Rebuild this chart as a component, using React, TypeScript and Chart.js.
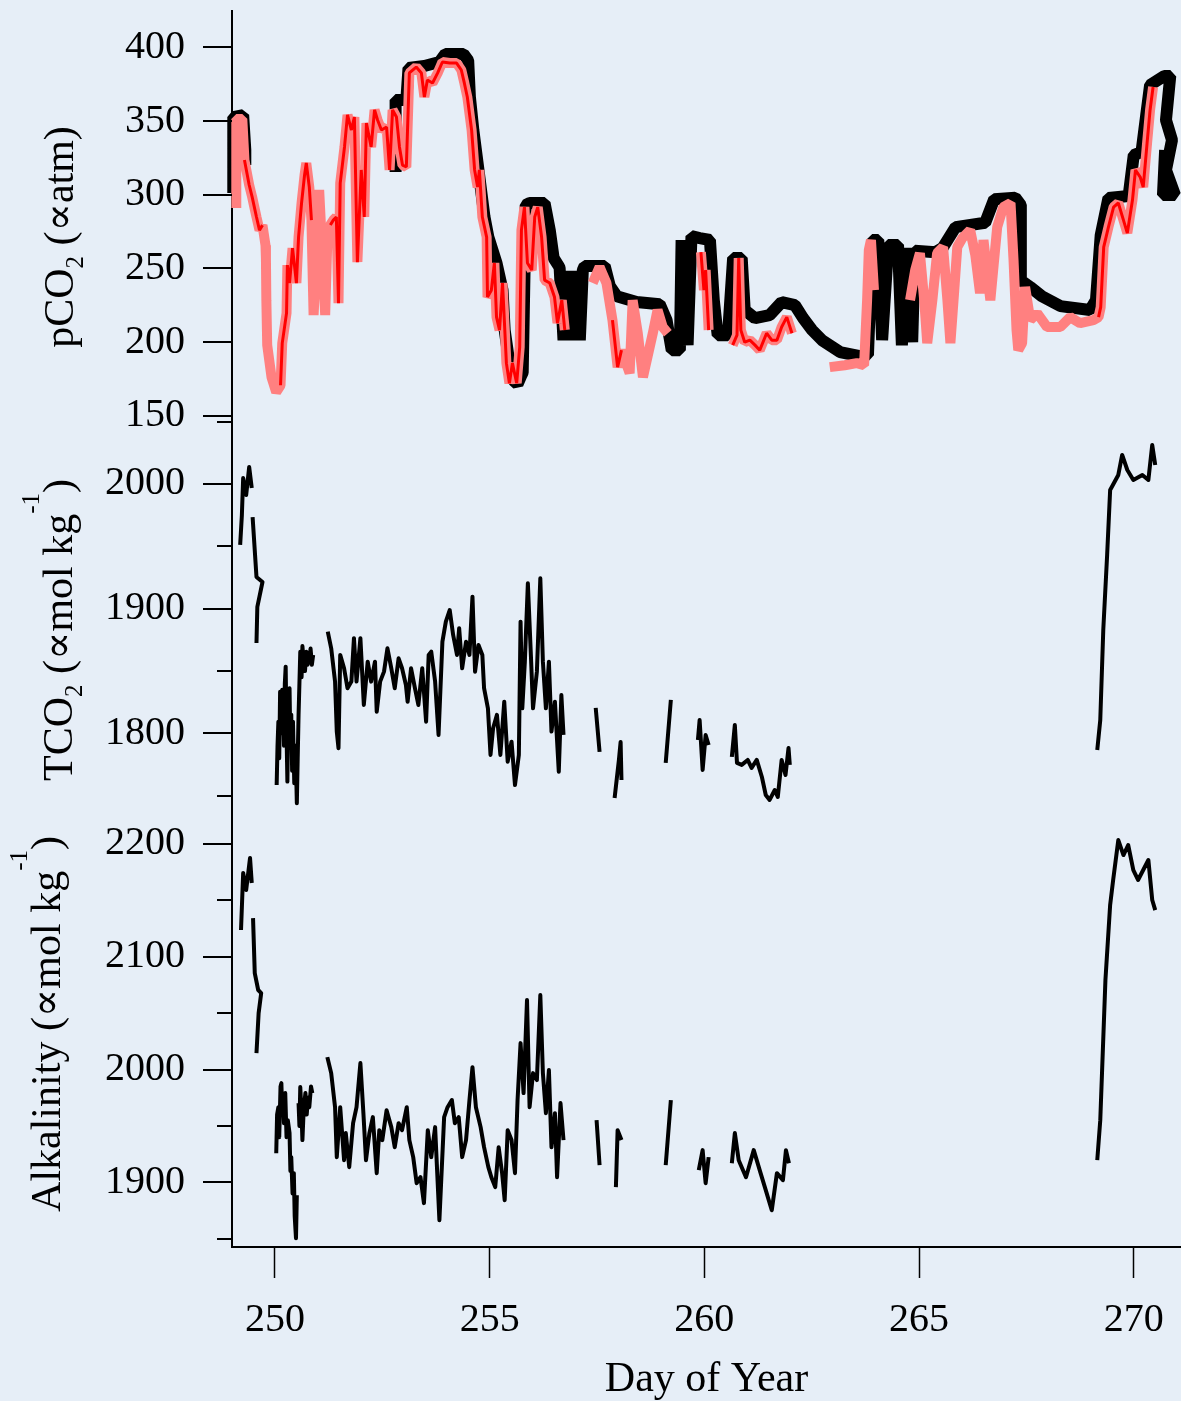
import React, { useEffect, useRef } from 'react';
import { Chart, registerables } from 'chart.js';

Chart.register(...registerables);

// ---------------- Tick values ----------------
const dayTicks = [250, 255, 260, 265, 270];
const pco2Ticks = [150, 200, 250, 300, 350, 400];
const tco2Ticks = [1750, 1800, 1850, 1900, 1950, 2000, 2050];
const tco2Labelled = [1800, 1900, 2000];
const alkTicks = [1850, 1900, 1950, 2000, 2050, 2100, 2150, 2200];
const alkLabelled = [1900, 2000, 2100, 2200];

// ---------------- pCO2 : broad black record ----------------
const pco2BlackDays = [
  249.03, 249.03, 249.26, 249.31, 249.31, 251.0,
  252.81, 252.81, 253.06, 253.11, 253.48, 253.83, 253.97, 254.39, 254.5, 254.54,
  254.62, 254.74, 254.88, 254.97, 255.16, 255.3, 255.35, 255.46, 255.56, 255.65,
  255.74, 255.77, 255.84, 255.93, 256.28, 256.4, 256.49, 256.61, 256.63, 256.72,
  256.81, 256.91, 257.0, 257.1, 257.17, 257.21, 257.68, 257.8, 257.96, 258.42,
  258.96, 259.12, 259.24, 259.43, 259.47, 259.61, 259.7, 259.89, 260.13, 260.22,
  260.31, 260.55, 260.67, 260.87, 260.94, 261.18, 261.52, 261.8, 262.11, 262.3,
  262.51, 262.74, 263.16, 263.62, 263.81, 263.91, 264.05, 264.14, 264.28, 264.51,
  264.6, 264.72, 264.84, 264.9, 265.38, 265.55, 265.85, 266.54, 266.75, 267.24,
  267.37, 267.37, 267.59, 267.86, 268.29, 268.98, 269.12, 269.23, 269.41, 269.88,
  270.0, 270.18, 270.29, 270.38, 270.71, 270.85, 270.75, 270.89, 270.75, 270.96,
  270.68, 270.73,
];
const pco2BlackValues = [
  301.2, 352.7, 354.0, 330.3, 320.1, null,
  315.4, 364.2, 364.2, 385.9, 387.3, 390.0, 395.5, 395.5, 391.0, 366.3,
  343.9, 316.8, 284.9, 271.3, 253.7, 235.3, 208.2, 185.8, 174.0, 171.5,
  177.6, 179.5, 293.0, 294.4, 294.4, 276.0, 257.1, 251.6, 250.3, 201.4,
  248.2, 201.4, 248.2, 201.4, 248.9, 251.6, 251.6, 238.0, 231.2, 227.2,
  225.8, 215.0, 194.6, 194.6, 269.3, 198.0, 271.9, 270.6, 269.3, 228.5,
  204.8, 204.8, 257.1, 257.1, 221.8, 216.3, 218.4, 227.2, 225.1, 216.3,
  208.2, 201.4, 193.3, 190.6, 191.3, 269.3, 269.3, 201.4, 265.9, 265.9,
  198.0, 263.8, 200.0, 262.0, 261.0, 264.0, 278.0, 281.0, 297.0, 298.0,
  293.0, 242.0, 237.4, 231.2, 224.5, 221.8, 228.5, 272.6, 297.8, 299.1,
  326.9, 329.0, 354.1, 374.4, 380.5, 380.5, 350.7, 337.1, 316.8, 299.8,
  299.8, 330.3,
];

// ---------------- pCO2 : pink record ----------------
const pco2PinkDays = [
  249.1, 249.1, 249.24, 249.29, 249.4, 249.47, 249.57, 249.64, 249.71, 249.78,
  249.79, 249.8, 249.82, 249.92, 250.03, 250.13, 250.17, 250.27, 250.29, 250.34,
  250.41, 250.5, 250.55, 250.62, 250.69, 250.73, 250.8, 250.85, 250.9, 250.99,
  251.03, 251.1, 251.17, 251.22, 251.29, 251.36, 251.43, 251.48, 251.52, 251.62,
  251.69, 251.78, 251.85, 251.92, 252.01, 252.08, 252.13, 252.24, 252.32, 252.39,
  252.48, 252.6, 252.67, 252.74, 252.83, 252.9, 252.97, 253.06, 253.13, 253.29,
  253.41, 253.48, 253.55, 253.67, 253.79, 253.9, 254.07, 254.23, 254.34, 254.41,
  254.48, 254.58, 254.65, 254.72, 254.76, 254.83, 254.93, 254.95, 255.04, 255.11,
  255.16, 255.23, 255.3, 255.39, 255.46, 255.53, 255.63, 255.7, 255.74, 255.81,
  255.88, 255.98, 256.05, 256.12, 256.21, 256.28, 256.4, 256.51, 256.58, 256.68,
  256.75, 257.0,
  257.4, 257.56, 257.72, 257.86, 257.98, 258.07, 258.26, 258.33, 258.45, 258.57,
  258.8, 258.91, 259.03, 259.15, 259.5,
  259.92, 259.99, 260.03, 260.1, 260.4,
  260.66, 260.76, 260.8, 260.85, 260.94, 261.06, 261.18, 261.29, 261.45, 261.57,
  261.69, 261.8, 261.92, 262.04, 262.5,
  262.92, 263.27, 263.55, 263.72, 263.79, 263.83, 263.88, 263.95, 264.3,
  264.79, 264.91, 265.02, 265.12, 265.19, 265.31, 265.42, 265.56, 265.66, 265.73,
  265.82, 265.89, 266.01, 266.19, 266.31, 266.42, 266.5, 266.66, 266.82, 266.96,
  267.13, 267.2, 267.27, 267.31, 267.4, 267.47, 267.59, 267.75, 267.98, 268.29,
  268.52, 268.75, 269.06, 269.18, 269.23, 269.3, 269.41, 269.53, 269.64, 269.76,
  269.85, 269.97, 270.04, 270.15, 270.22, 270.31, 270.38, 270.45,
];
const pco2PinkValues = [
  291.0, 351.4, 351.4, 323.5, 306.6, 298.4, 284.9, 276.0, 279.4, 265.8,
  257.1, 228.5, 198.0, 176.3, 166.1, 170.8, 199.4, 219.7, 252.3, 240.1,
  263.8, 240.1, 271.3, 294.4, 313.4, 321.5, 305.2, 282.8, 218.4, 269.3,
  303.2, 262.5, 218.4, 269.3, 279.5, 282.8, 284.9, 226.5, 307.9, 332.4,
  354.1, 343.9, 352.7, 254.3, 316.8, 284.9, 348.6, 332.4, 357.5, 350.7,
  343.9, 345.9, 316.8, 357.5, 352.7, 332.4, 320.1, 318.8, 382.6, 386.6,
  382.6, 366.3, 377.8, 375.8, 382.6, 390.0, 389.3, 389.3, 384.6, 375.8,
  366.3, 343.9, 316.8, 305.2, 316.8, 284.9, 271.3, 230.6, 235.3, 253.7,
  217.0, 208.2, 240.1, 185.8, 172.2, 185.8, 172.2, 196.7, 276.0, 291.6,
  253.7, 248.9, 284.9, 291.6, 271.3, 242.1, 240.1, 230.6, 213.0, 228.5,
  208.2, null,
  240.1, 251.0, 240.1, 215.0, 183.1, 194.6, 179.0, 228.5, 206.1, 176.3,
  206.1, 221.8, 210.3, 206.1, null,
  261.1, 235.3, 248.9, 208.2, null,
  198.0, 204.8, 257.1, 208.2, 200.0, 201.4, 198.0, 194.6, 206.1, 201.4,
  201.4, 210.3, 217.0, 206.1, null,
  183.1, 184.4, 185.8, 184.4, 228.5, 262.5, 269.3, 235.3, null,
  228.5, 248.9, 260.4, 228.5, 199.4, 228.5, 260.4, 264.5, 228.5, 199.4,
  235.3, 264.5, 270.6, 276.0, 259.1, 233.3, 269.3, 228.5, 278.1, 291.6,
  294.4, 255.7, 208.2, 194.6, 199.4, 237.4, 215.0, 219.7, 210.3, 210.3,
  217.0, 212.9, 215.0, 217.0, 223.8, 264.5, 278.1, 291.6, 294.4, 282.8,
  274.0, 296.4, 316.8, 312.0, 305.2, 335.0, 357.5, 373.1,
];

// ---------------- pCO2 : red (fine) record — day spans where it is drawn over the pink ----------------
const pco2RedSpans = [
  [249.28, 249.72],
  [250.13, 250.85],
  [251.29, 256.76],
  [257.85, 258.08],
  [259.9, 260.11],
  [260.6, 262.05],
  [269.17, 270.46],
];

// ---------------- TCO2 ----------------
const tco2Days = [
  249.19, 249.23, 249.26, 249.33, 249.4, 249.46, 249.47,
  249.48, 249.57, 249.71, 249.59, 249.57, 249.9,
  250.04, 250.06, 250.08, 250.1, 250.12, 250.14, 250.17, 250.19, 250.21, 250.23,
  250.25, 250.27, 250.29, 250.31, 250.34, 250.36, 250.38, 250.4, 250.42, 250.45,
  250.48, 250.51, 250.53, 250.55, 250.57, 250.59, 250.62, 250.64, 250.67, 250.7,
  250.73, 250.76, 250.8, 250.83, 250.86, 250.89, 251.0,
  251.23, 251.31, 251.4, 251.44, 251.48, 251.52, 251.61, 251.69, 251.78, 251.84,
  251.9, 251.99, 252.07, 252.16, 252.24, 252.33, 252.37, 252.45, 252.54, 252.62,
  252.71, 252.79, 252.88, 252.96, 253.05, 253.09, 253.17, 253.26, 253.34, 253.43,
  253.52, 253.58, 253.64, 253.73, 253.81, 253.9, 253.98, 254.07, 254.15, 254.24,
  254.29, 254.36, 254.45, 254.53, 254.6, 254.66, 254.74, 254.83, 254.87, 254.96,
  255.02, 255.08, 255.17, 255.25, 255.34, 255.42, 255.51, 255.59, 255.68, 255.72,
  255.76, 255.82, 255.89, 255.96, 256.01, 256.1, 256.18, 256.24, 256.31, 256.38,
  256.44, 256.52, 256.61, 256.67, 256.72, 257.0,
  257.47, 257.56, 257.7,
  257.91, 258.01, 258.05, 258.07, 258.5,
  259.1, 259.22, 259.5,
  259.85, 259.89, 259.96, 260.03, 260.1, 260.4,
  260.64, 260.71, 260.76, 260.87, 261.01, 261.1, 261.22, 261.34, 261.43, 261.52,
  261.64, 261.71, 261.8, 261.89, 261.96, 261.99, 265.0,
  269.15, 269.22, 269.29, 269.38, 269.45, 269.64, 269.73, 269.85, 269.99, 270.2,
  270.34, 270.43, 270.5,
];
const tco2Values = [
  1951.1, 1975.1, 2004.8, 1991.2, 2013.6, 1996.8, null,
  1973.5, 1925.4, 1921.4, 1901.4, 1872.5, null,
  1758.6, 1790.0, 1809.4, 1780.0, 1833.4, 1800.0, 1835.0, 1822.8, 1790.0, 1840.0,
  1853.5, 1800.0, 1761.3, 1820.0, 1836.2, 1790.0, 1815.0, 1770.0, 1809.4, 1760.0,
  1790.0, 1743.9, 1780.0, 1814.8, 1840.0, 1865.5, 1845.0, 1870.0, 1857.5, 1850.0,
  1865.5, 1855.0, 1860.2, 1868.0, 1855.0, 1862.9, null,
  1881.6, 1868.2, 1841.5, 1801.4, 1788.0, 1862.9, 1852.2, 1836.2, 1841.5, 1876.3,
  1841.5, 1876.3, 1822.8, 1857.5, 1841.5, 1857.5, 1817.4, 1841.5, 1849.5, 1868.2,
  1852.2, 1836.2, 1860.2, 1852.2, 1838.8, 1825.4, 1852.2, 1836.2, 1822.8, 1852.2,
  1809.4, 1862.9, 1865.5, 1841.5, 1798.7, 1873.5, 1889.6, 1898.9, 1878.9, 1862.9,
  1884.3, 1852.2, 1873.5, 1862.9, 1909.6, 1849.5, 1870.9, 1862.9, 1836.2, 1820.1,
  1782.7, 1804.1, 1814.8, 1782.7, 1825.4, 1777.3, 1793.3, 1758.6, 1782.7, 1889.6,
  1820.1, 1857.5, 1920.4, 1862.9, 1820.1, 1849.5, 1924.4, 1857.5, 1820.1, 1857.5,
  1801.4, 1825.4, 1769.3, 1830.8, 1798.7, null,
  1820.4, 1785.1, null,
  1748.2, 1778.7, 1793.1, 1762.6, null,
  1776.3, 1826.8, null,
  1794.7, 1810.7, 1770.7, 1798.7, 1790.7, null,
  1781.1, 1806.7, 1776.3, 1774.7, 1778.7, 1772.3, 1778.7, 1765.0, 1750.6, 1746.6,
  1754.6, 1749.0, 1778.7, 1766.6, 1788.3, 1774.7, null,
  1786.7, 1810.7, 1882.9, 1943.1, 1995.2, 2007.2, 2023.3, 2011.2, 2003.2, 2007.2,
  2003.2, 2031.3, 2015.2,
];

// ---------------- Alkalinity ----------------
const alkDays = [
  249.21, 249.26, 249.33, 249.42, 249.46, 249.47,
  249.49, 249.53, 249.61, 249.68, 249.62, 249.57, 249.9,
  250.03, 250.05, 250.08, 250.1, 250.13, 250.15, 250.17, 250.19, 250.21, 250.24,
  250.27, 250.3, 250.34, 250.36, 250.38, 250.41, 250.44, 250.46, 250.49, 250.51,
  250.53,
  250.55, 250.57, 250.59, 250.62, 250.64, 250.67, 250.71, 250.74, 250.77, 250.8,
  250.84, 250.87, 251.0,
  251.22, 251.31, 251.4, 251.44, 251.52, 251.61, 251.65, 251.73, 251.82, 251.9,
  251.99, 252.06, 252.12, 252.2, 252.28, 252.37, 252.43, 252.5, 252.6, 252.71,
  252.79, 252.88, 252.96, 253.07, 253.13, 253.22, 253.3, 253.39, 253.47, 253.56,
  253.64, 253.73, 253.83, 253.94, 254.02, 254.12, 254.19, 254.28, 254.36, 254.45,
  254.53, 254.6, 254.68, 254.79, 254.87, 254.97, 255.04, 255.13, 255.21, 255.29,
  255.35, 255.42, 255.51, 255.59, 255.65, 255.72, 255.79, 255.87, 255.93, 256.01,
  256.1, 256.18, 256.24, 256.31, 256.38, 256.44, 256.52, 256.57, 256.65, 256.72,
  257.0,
  257.49, 257.56, 257.7,
  257.94, 257.98, 258.07, 258.5,
  259.1, 259.22, 259.5,
  259.87, 259.96, 260.03, 260.1, 260.4,
  260.64, 260.71, 260.8, 260.97, 261.15, 261.31, 261.43, 261.57, 261.69, 261.83,
  261.9, 261.97, 265.0,
  269.15, 269.22, 269.34, 269.45, 269.52, 269.64, 269.76, 269.87, 269.99, 270.1,
  270.22, 270.34, 270.43, 270.5,
];
const alkValues = [
  2123.7, 2174.3, 2159.2, 2187.6, 2165.4, null,
  2134.3, 2085.5, 2070.5, 2067.8, 2050.0, 2014.6, null,
  1925.8, 1960.0, 1966.6, 1940.0, 1985.0, 1987.9, 1960.0, 1975.0, 1952.4, 1979.1,
  1940.0, 1955.0, 1943.6, 1910.0, 1922.3, 1890.0, 1908.1, 1870.0, 1850.4, 1888.5,
  null,
  1970.2, 1950.0, 1984.4, 1960.0, 1937.4, 1965.0, 1979.1, 1960.0, 1975.0, 1966.6,
  1985.0, 1979.1, null,
  2011.0, 1996.8, 1966.6, 1922.3, 1966.6, 1919.6, 1943.6, 1913.4, 1952.4, 1966.6,
  2005.7, 1961.3, 1919.6, 1943.6, 1957.8, 1908.1, 1946.2, 1937.4, 1963.9, 1948.9,
  1931.1, 1952.4, 1946.2, 1966.6, 1937.4, 1922.3, 1899.2, 1904.5, 1881.5, 1946.2,
  1922.3, 1948.9, 1866.4, 1957.8, 1966.6, 1972.9, 1952.4, 1957.8, 1922.3, 1937.4,
  1972.9, 2002.1, 1966.6, 1948.9, 1931.1, 1913.4, 1904.5, 1895.7, 1931.1, 1908.1,
  1884.1, 1946.2, 1937.4, 1908.1, 1972.9, 2023.4, 1979.1, 2061.6, 1966.6, 1996.8,
  1990.6, 2066.0, 1996.8, 1961.3, 1999.5, 1931.1, 1961.3, 1904.5, 1970.2, 1937.4,
  null,
  1955.1, 1915.2, null,
  1895.7, 1946.2, 1937.4, null,
  1915.2, 1972.9, null,
  1910.7, 1928.5, 1899.2, 1922.3, null,
  1916.9, 1943.6, 1919.6, 1904.5, 1928.5, 1908.1, 1893.0, 1875.2, 1908.1, 1901.9,
  1928.5, 1916.9, null,
  1919.6, 1955.1, 2079.3, 2145.9, 2168.1, 2203.5, 2190.2, 2199.1, 2176.9, 2168.1,
  2176.9, 2185.8, 2150.3, 2141.4,
];

// ---------------- helpers ----------------
const FONT = '"Liberation Serif", "DejaVu Serif", serif';
const BG = '#e6eef7';

const toXY = (days: number[], vals: (number | null)[]) =>
  days.map((d, i) => ({ x: d, y: vals[i] }));

const redValues = pco2PinkDays.map((d, i) =>
  pco2RedSpans.some(([a, b]) => d >= a && d <= b) ? pco2PinkValues[i] : null
);

type Run = { t: string; k: 'n' | 'sub' | 'sup' };
const yTitles: { x: number; y: number; runs: Run[] }[] = [
  { x: 73, y: 237, runs: [{ t: 'pCO', k: 'n' }, { t: '2', k: 'sub' }, { t: ' (∝atm)', k: 'n' }] },
  {
    x: 72, y: 630,
    runs: [{ t: 'TCO', k: 'n' }, { t: '2', k: 'sub' }, { t: ' (∝mol kg', k: 'n' }, { t: '-1', k: 'sup' }, { t: ')', k: 'n' }],
  },
  {
    x: 60, y: 1024,
    runs: [{ t: 'Alkalinity (∝mol kg', k: 'n' }, { t: '-1', k: 'sup' }, { t: ')', k: 'n' }],
  },
];

const bgPlugin = {
  id: 'bgFill',
  beforeDraw(chart: any) {
    const { ctx, width, height } = chart;
    ctx.save();
    ctx.fillStyle = BG;
    ctx.fillRect(0, 0, width, height);
    ctx.restore();
  },
};

const yTickPlugin = {
  id: 'yTickMarks',
  afterDraw(chart: any) {
    const ctx = chart.ctx;
    const sets: [string, number[], number[]][] = [
      ['yP', pco2Ticks, pco2Ticks],
      ['yT', tco2Ticks, tco2Labelled],
      ['yA', alkTicks, alkLabelled],
    ];
    ctx.save();
    ctx.strokeStyle = '#000';
    ctx.lineWidth = 2;
    for (const [id, ticks, major] of sets) {
      const s = chart.scales[id];
      for (const v of ticks) {
        const y = Math.round(s.getPixelForValue(v));
        const len = major.includes(v) ? 29 : 15;
        ctx.beginPath();
        ctx.moveTo(s.right - len, y);
        ctx.lineTo(s.right, y);
        ctx.stroke();
      }
    }
    ctx.restore();
  },
};

const yTitlePlugin = {
  id: 'yTitles',
  afterDraw(chart: any) {
    const ctx = chart.ctx;
    const fonts = { n: `42px ${FONT}`, sub: `25px ${FONT}`, sup: `25px ${FONT}` };
    const dy = { n: 0, sub: 10, sup: -33 };
    for (const t of yTitles) {
      ctx.save();
      ctx.translate(t.x, t.y);
      ctx.rotate(-Math.PI / 2);
      ctx.fillStyle = '#000';
      ctx.textBaseline = 'alphabetic';
      ctx.textAlign = 'left';
      let total = 0;
      const widths = t.runs.map((r) => {
        ctx.font = fonts[r.k];
        const w = ctx.measureText(r.t).width;
        total += w;
        return w;
      });
      let x = -total / 2;
      t.runs.forEach((r, i) => {
        ctx.font = fonts[r.k];
        ctx.fillText(r.t, x, dy[r.k]);
        x += widths[i];
      });
      ctx.restore();
    }
  },
};

const yAxis = (
  ticks: number[],
  labelled: number[],
  min: number,
  max: number,
  weight: number,
  stackWeight: number
) => ({
  type: 'linear' as const,
  position: 'left' as const,
  stack: 'panels',
  stackWeight,
  weight,
  min,
  max,
  bounds: 'data' as const,
  grid: { display: false, drawTicks: false },
  border: { display: true, color: '#000', width: 2 },
  ticks: {
    color: '#000',
    font: { family: FONT, size: 40 },
    padding: 47,
    autoSkip: false,
    callback: (v: any) => (labelled.includes(Number(v)) ? String(v) : ''),
  },
  afterBuildTicks: (s: any) => {
    s.ticks = ticks.map((v) => ({ value: v }));
  },
  afterFit: (s: any) => {
    s.width = 232;
    s.paddingTop = 0;
    s.paddingBottom = 0;
  },
});

export default function App() {
  const ref = useRef<HTMLCanvasElement>(null);

  useEffect(() => {
    if (!ref.current) return;
    const lineBase = { pointRadius: 0, tension: 0, fill: false, spanGaps: false, borderJoinStyle: 'bevel' as const };
    const chart = new Chart(ref.current, {
      type: 'line',
      data: {
        datasets: [
          { ...lineBase, label: 'pCO2 fine', data: toXY(pco2PinkDays, redValues), yAxisID: 'yP', borderColor: '#ff0000', borderWidth: 3, order: 0, clip: false },
          { ...lineBase, label: 'pCO2 pink', data: toXY(pco2PinkDays, pco2PinkValues), yAxisID: 'yP', borderColor: '#ff8080', borderWidth: 10, order: 1, clip: false },
          { ...lineBase, label: 'pCO2 black', data: toXY(pco2BlackDays, pco2BlackValues), yAxisID: 'yP', borderColor: '#000000', borderWidth: 12, order: 2, clip: false },
          { ...lineBase, label: 'TCO2', data: toXY(tco2Days, tco2Values), yAxisID: 'yT', borderColor: '#000000', borderWidth: 4, borderJoinStyle: 'round' as const, order: 3 },
          { ...lineBase, label: 'Alkalinity', data: toXY(alkDays, alkValues), yAxisID: 'yA', borderColor: '#000000', borderWidth: 4, borderJoinStyle: 'round' as const, order: 4 },
        ],
      },
      options: {
        animation: false,
        responsive: false,
        maintainAspectRatio: false,
        devicePixelRatio: 1,
        layout: { padding: { top: 11, left: 0, right: 0, bottom: 0 } },
        plugins: { legend: { display: false }, tooltip: { enabled: false } },
        scales: {
          x: {
            type: 'linear',
            position: 'bottom',
            min: 249,
            max: 271.1,
            bounds: 'data',
            grid: { display: true, drawOnChartArea: false, drawTicks: true, tickLength: 31, tickColor: '#000', tickWidth: 1.5 },
            border: { display: true, color: '#000', width: 2 },
            ticks: {
              color: '#000',
              font: { family: FONT, size: 40 },
              padding: 18,
              maxRotation: 0,
              autoSkip: false,
              callback: (v: any) => String(v),
            },
            title: {
              display: true,
              text: 'Day of Year',
              color: '#000',
              font: { family: FONT, size: 42, lineHeight: 1 },
              padding: { top: 0, bottom: 0 },
            },
            afterBuildTicks: (s: any) => {
              s.ticks = dayTicks.map((v) => ({ value: v }));
            },
            afterFit: (s: any) => {
              s.height = 154;
              s.paddingLeft = 0;
              s.paddingRight = 0;
            },
          },
          yP: yAxis(pco2Ticks, pco2Ticks, 148.6, 424.6, 3, 407),
          yT: yAxis(tco2Ticks, tco2Labelled, 1722.5, 2052.9, 2, 412),
          yA: yAxis(alkTicks, alkLabelled, 1842.6, 2212.4, 1, 417),
        } as any,
      },
      plugins: [bgPlugin, yTickPlugin, yTitlePlugin],
    });
    return () => chart.destroy();
  }, []);

  return (
    <div style={{ position: 'absolute', left: 0, top: 0, width: 1181, height: 1401 }}>
      <canvas ref={ref} width={1181} height={1401} style={{ display: 'block', width: 1181, height: 1401 }} />
    </div>
  );
}
